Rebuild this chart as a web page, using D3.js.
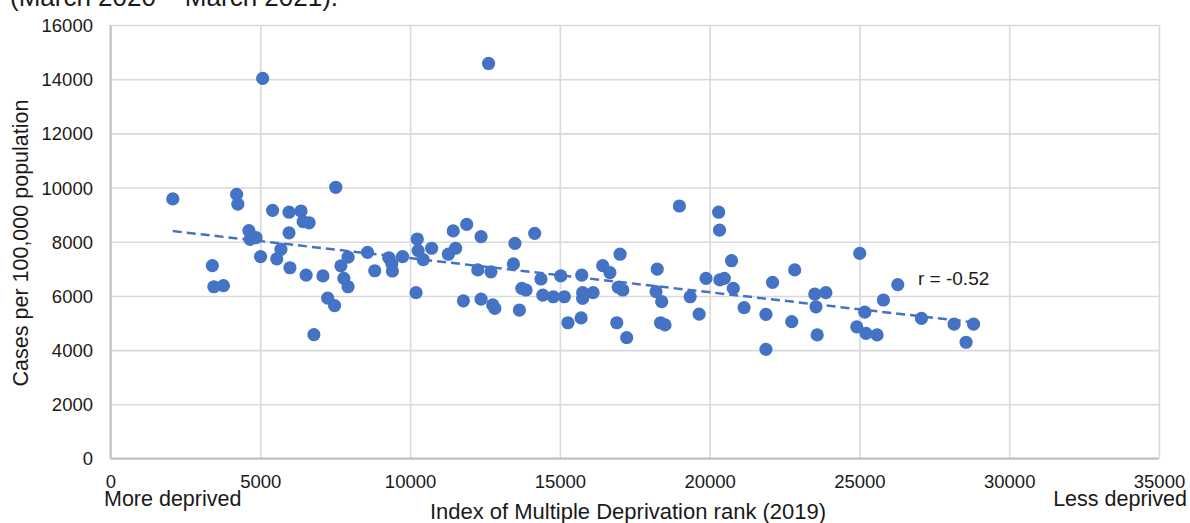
<!DOCTYPE html>
<html>
<head>
<meta charset="utf-8">
<script src="https://cdn.jsdelivr.net/npm/d3@7"></script>
<style>
  html, body { margin: 0; padding: 0; background: #fff; overflow: hidden; }
  svg { display: block; font-family: "Liberation Sans", Arial, sans-serif; }
</style>
</head>
<body>
<svg id="chart" width="1190" height="523"></svg>
<script>
// IMD rank (2019) of each area
const imdRank = [
  2080, 3400, 3450, 3770, 4210, 4250, 4620, 4660, 4860, 5080,
  5010, 5410, 5690, 5550, 5960, 5960, 5990, 6360, 6430, 6630,
  6530, 6790, 7090, 7250, 7480, 7520, 7690, 7790, 7930, 7930,
  8580, 8820, 9290, 9390, 9410, 9750, 10240, 10270, 10440, 10720,
  10200, 11280, 11440, 11520, 11890, 11780, 12370, 12260, 12700, 12370,
  12760, 12830, 12620, 13500, 13450, 14160, 13650, 13730, 13870, 14370,
  14430, 14780, 15150, 15030, 15270, 15710, 15730, 15760, 15760, 16110,
  16430, 16670, 17010, 16950, 17100, 16900, 17230, 18990, 18250, 18210,
  18400, 18360, 18510, 19350, 19650, 19880, 20300, 20330, 20340, 20490,
  20730, 20790, 21150, 21880, 21880, 22100, 22740, 22840, 23510, 23550,
  23880, 23590, 25010, 24910, 25180, 25220, 25590, 25800, 26280, 27070,
  28160, 28810, 28560
];

// Cumulative cases per 100,000 population, same order as imdRank
const casesPer100k = [
  9580, 7120, 6340, 6380, 9750, 9390, 8410, 8090, 8150, 14030,
  7450, 9160, 7720, 7370, 9090, 8330, 7040, 9135, 8740, 8700,
  6770, 4570, 6740, 5920, 5640, 10010, 7110, 6650, 6340, 7430,
  7610, 6930, 7410, 7200, 6920, 7450, 8100, 7670, 7340, 7760,
  6120, 7540, 8400, 7760, 8640, 5820, 8190, 6960, 6890, 5880,
  5670, 5540, 14580, 7940, 7180, 8310, 5480, 6280, 6220, 6625,
  6030, 5970, 5970, 6740, 5010, 5190, 6770, 6120, 5910, 6120,
  7120, 6860, 7540, 6320, 6220, 5010, 4460, 9320, 6990, 6160,
  5790, 5010, 4930, 5970, 5330, 6650, 9090, 8430, 6590, 6650,
  7300, 6280, 5570, 5320, 4030, 6500, 5050, 6960, 6070, 5600,
  6120, 4560, 7570, 4860, 5400, 4620, 4560, 5850, 6420, 5170,
  4960, 4960, 4290
];

const xTicks = [0, 5000, 10000, 15000, 20000, 25000, 30000, 35000];
const yTicks = [0, 2000, 4000, 6000, 8000, 10000, 12000, 14000, 16000];
const correlationLabel = "r = -0.52";

const svg = d3.select("#chart");
const plot = { left: 110.5, right: 1159, top: 25, bottom: 458.5 };

const x = d3.scaleLinear().domain([0, 35000]).range([plot.left, plot.right]);
const y = d3.scaleLinear().domain([0, 16000]).range([plot.bottom, plot.top]);

const pts = imdRank.map((r, i) => ({ x: r, y: casesPer100k[i] }));

// heading line above the chart, mostly cut off at the top edge
svg.append("text")
  .attr("x", 10).attr("y", 6)
  .attr("font-size", 26).attr("fill", "#1a1a1a")
  .text("(March 2020 \u2013 March 2021).");

// vertical gridlines
const gx = svg.append("g")
  .attr("transform", `translate(0,${plot.bottom})`)
  .call(d3.axisBottom(x).tickValues(xTicks).tickSize(-(plot.bottom - plot.top)).tickFormat(""));
gx.select(".domain").remove();
gx.selectAll("line").attr("stroke", "#d9d9d9").attr("stroke-width", 1.6);

// horizontal gridlines
const gy = svg.append("g")
  .attr("transform", `translate(${plot.left},0)`)
  .call(d3.axisLeft(y).tickValues(yTicks).tickSize(-(plot.right - plot.left)).tickFormat(""));
gy.select(".domain").remove();
gy.selectAll("line").attr("stroke", "#d9d9d9").attr("stroke-width", 1.6);

// axis lines
svg.append("line")
  .attr("x1", x(0)).attr("x2", x(35000)).attr("y1", y(0)).attr("y2", y(0))
  .attr("stroke", "#bfbfbf").attr("stroke-width", 2);
svg.append("line")
  .attr("x1", x(0)).attr("x2", x(0)).attr("y1", y(0)).attr("y2", y(16000))
  .attr("stroke", "#bfbfbf").attr("stroke-width", 2);

// tick labels
const xAxis = svg.append("g")
  .attr("transform", `translate(0,${plot.bottom})`)
  .call(d3.axisBottom(x).tickValues(xTicks).tickSize(0).tickPadding(0).tickFormat(d3.format("d")));
xAxis.select(".domain").remove();
xAxis.selectAll("text")
  .attr("y", 29.5).attr("dy", null)
  .attr("font-size", 18.5).attr("font-family", "Liberation Sans, Arial, sans-serif")
  .attr("fill", "#1a1a1a");

const yAxis = svg.append("g")
  .attr("transform", `translate(${plot.left},0)`)
  .call(d3.axisLeft(y).tickValues(yTicks).tickSize(0).tickPadding(0).tickFormat(d3.format("d")));
yAxis.select(".domain").remove();
yAxis.selectAll("text")
  .attr("x", -17.5).attr("dy", "0.35em")
  .attr("font-size", 18.5).attr("font-family", "Liberation Sans, Arial, sans-serif")
  .attr("fill", "#1a1a1a");

// least-squares trendline across the range of the data
const mx = d3.mean(pts, d => d.x), my = d3.mean(pts, d => d.y);
const sxy = d3.sum(pts, d => (d.x - mx) * (d.y - my));
const sxx = d3.sum(pts, d => (d.x - mx) * (d.x - mx));
const slope = sxy / sxx, intercept = my - slope * mx;
const [xmin, xmax] = d3.extent(pts, d => d.x);
const trend = [xmin, xmax].map(v => ({ x: v, y: intercept + slope * v }));

svg.append("path")
  .datum(trend)
  .attr("d", d3.line().x(d => x(d.x)).y(d => y(d.y)))
  .attr("fill", "none")
  .attr("stroke", "#4472c4")
  .attr("stroke-width", 2.5)
  .attr("stroke-dasharray", "9,5");

// data points
svg.append("g").selectAll("circle")
  .data(pts)
  .join("circle")
  .attr("cx", d => x(d.x))
  .attr("cy", d => y(d.y))
  .attr("r", 6.6)
  .attr("fill", "#4472c4");

// correlation annotation
svg.append("text")
  .attr("x", 918).attr("y", 285)
  .attr("font-size", 19).attr("fill", "#1a1a1a")
  .text(correlationLabel);

// axis titles
svg.append("text")
  .attr("transform", "translate(28,243) rotate(-90)")
  .attr("text-anchor", "middle")
  .attr("font-size", 21.5).attr("fill", "#1a1a1a")
  .text("Cases per 100,000 population");

svg.append("text")
  .attr("x", 628).attr("y", 518.5)
  .attr("text-anchor", "middle")
  .attr("font-size", 22).attr("fill", "#1a1a1a")
  .text("Index of Multiple Deprivation rank (2019)");

svg.append("text")
  .attr("x", 104).attr("y", 505.5)
  .attr("font-size", 21.5).attr("fill", "#1a1a1a")
  .text("More deprived");

svg.append("text")
  .attr("x", 1187).attr("y", 505.5)
  .attr("text-anchor", "end")
  .attr("font-size", 21.5).attr("fill", "#1a1a1a")
  .text("Less deprived");
</script>
</body>
</html>
